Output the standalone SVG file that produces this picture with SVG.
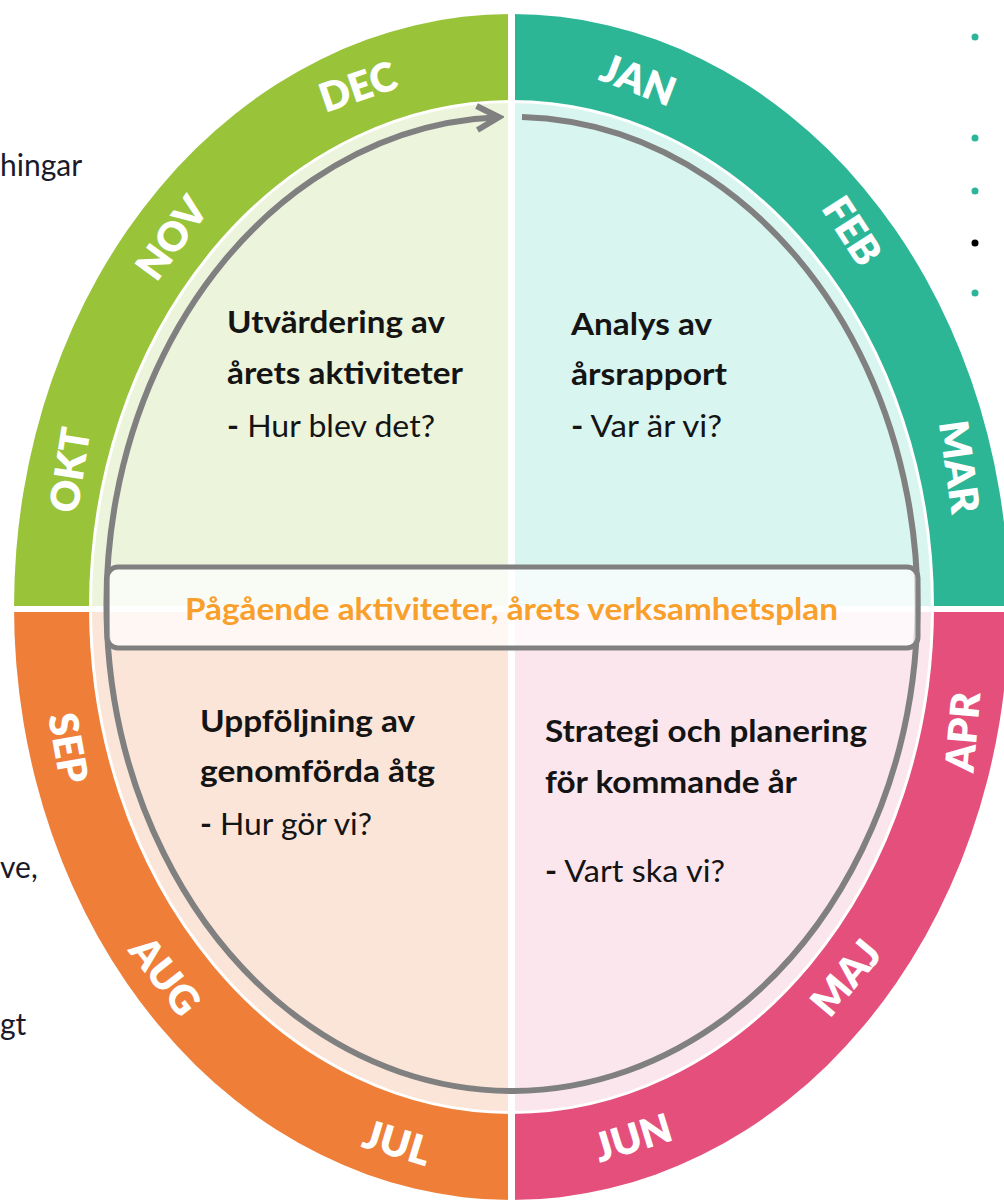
<svg xmlns="http://www.w3.org/2000/svg" width="1004" height="1202" viewBox="0 0 1004 1202">
  <style>
    .title { font-family: Lato, "Liberation Sans", sans-serif; font-weight: 700; font-size: 31px; fill: #141414; }
    .sub { font-family: Lato, "Liberation Sans", sans-serif; font-weight: 400; font-size: 31px; fill: #141414; }
    .month { font-family: Lato, "Liberation Sans", sans-serif; font-weight: 800; font-size: 40px; fill: #ffffff; text-anchor: middle; }
    .side { font-family: Lato, "Liberation Sans", sans-serif; font-weight: 400; font-size: 30px; fill: #1a1a2a; }
    .band { font-family: Lato, "Liberation Sans", sans-serif; font-weight: 700; font-size: 31px; fill: #f8a02b; }
    .sep { stroke: #ffffff; }
  </style>
  <defs>
    <marker id="arrowhead" markerUnits="userSpaceOnUse" markerWidth="30" markerHeight="32" viewBox="0 0 30 32" refX="25" refY="16" orient="auto">
      <path d="M3,4 L25,16 L3,28" fill="none" stroke="#808080" stroke-width="6" stroke-linejoin="miter"/>
    </marker>
  </defs>
  <rect width="1004" height="1202" fill="#ffffff"/>

  <!-- side text fragments -->
  <g id="side-text">
    <text class="side" x="0" y="176">hingar</text>
    <text class="side" x="0" y="878">ve,</text>
    <text class="side" x="0" y="1035">gt</text>
    <circle cx="975" cy="37" r="3.5" fill="#2bb59a"/>
    <circle cx="975" cy="138" r="3.5" fill="#2bb59a"/>
    <circle cx="975" cy="191" r="3.5" fill="#2bb59a"/>
    <circle cx="975" cy="243" r="3.5" fill="#000000"/>
    <circle cx="975" cy="293" r="3.5" fill="#2bb59a"/>
  </g>

  <!-- outer ring quadrants -->
  <g id="q-autumn">
    <path d="M511.5,607 L14,607 A497.5,593 0 0 1 511.5,14 Z" fill="#99c43a"/>
    <path d="M511.5,607 L90.5,607 A421,505.5 0 0 1 511.5,101.5 Z" fill="#ecf4dc"/>
  </g>
  <g id="q-winter">
    <path d="M511.5,607 L511.5,14 A497.5,593 0 0 1 1009,607 Z" fill="#2db696"/>
    <path d="M511.5,607 L511.5,101.5 A421,505.5 0 0 1 932.5,607 Z" fill="#d8f5ef"/>
  </g>
  <g id="q-spring">
    <path d="M511.5,607 L1009,607 A497.5,593 0 0 1 511.5,1200 Z" fill="#e44f7c"/>
    <path d="M511.5,607 L932.5,607 A421,505.5 0 0 1 511.5,1112.5 Z" fill="#fce6ed"/>
  </g>
  <g id="q-summer">
    <path d="M511.5,607 L511.5,1200 A497.5,593 0 0 1 14,607 Z" fill="#ee7e38"/>
    <path d="M511.5,607 L90.5,607 A421,505.5 0 0 0 511.5,1112.5 Z" fill="#fbe5d8"/>
  </g>
  <g id="separators">
    <ellipse cx="511.5" cy="607" rx="421" ry="505.5" fill="none" stroke="#ffffff" stroke-width="3"/>
    <line class="sep" x1="511.5" y1="0" x2="511.5" y2="1202" stroke-width="7"/>
    <line class="sep" x1="0" y1="609" x2="1004" y2="609" stroke-width="6"/>
  </g>

  <!-- month labels -->
  <g id="months">
    <text class="month" transform="translate(358,87) rotate(-19)" y="14">DEC</text>
    <text class="month" transform="translate(172,238) rotate(-54)" y="14">NOV</text>
    <text class="month" transform="translate(70,470) rotate(-81)" y="14">OKT</text>
    <text class="month" transform="translate(638,80) rotate(21)" y="14">JAN</text>
    <text class="month" transform="translate(852,231) rotate(57)" y="14">FEB</text>
    <text class="month" transform="translate(959,467) rotate(82)" y="14">MAR</text>
    <text class="month" transform="translate(963,732) rotate(-85)" y="14">APR</text>
    <text class="month" transform="translate(846,978) rotate(-50)" y="14">MAJ</text>
    <text class="month" transform="translate(633,1138) rotate(-17)" y="14">JUN</text>
    <text class="month" transform="translate(397,1143) rotate(17)" y="14">JUL</text>
    <text class="month" transform="translate(165,976) rotate(52)" y="14">AUG</text>
    <text class="month" transform="translate(68,748) rotate(80)" y="14">SEP</text>
  </g>

  <!-- cycle arrow -->
  <g id="connectors">
    <path d="M522,117.1 A405.5,487 0 1 1 499,117.2" fill="none" stroke="#808080" stroke-width="6" marker-end="url(#arrowhead)"/>
  </g>

  <!-- ongoing activities band -->
  <g id="band">
    <rect x="107" y="567" width="811" height="81" rx="11" fill="#ffffff" fill-opacity="0.7" stroke="#808080" stroke-width="5"/>
    <text class="band" x="185" y="620" textLength="653" lengthAdjust="spacingAndGlyphs">Pågående aktiviteter, årets verksamhetsplan</text>
  </g>

  <g id="node-utvardering">
    <text class="title" x="227" y="333" textLength="218" lengthAdjust="spacingAndGlyphs">Utvärdering av</text>
    <text class="title" x="227" y="384" textLength="236" lengthAdjust="spacingAndGlyphs">årets aktiviteter</text>
    <text class="sub" x="227" y="437" textLength="208" lengthAdjust="spacingAndGlyphs"><tspan font-weight="700">-</tspan> Hur blev det?</text>
  </g>
  <g id="node-analys">
    <text class="title" x="571" y="335" textLength="141" lengthAdjust="spacingAndGlyphs">Analys av</text>
    <text class="title" x="571" y="385" textLength="156" lengthAdjust="spacingAndGlyphs">årsrapport</text>
    <text class="sub" x="571" y="437" textLength="151" lengthAdjust="spacingAndGlyphs"><tspan font-weight="700">-</tspan> Var är vi?</text>
  </g>
  <g id="node-uppfoljning">
    <text class="title" x="200" y="732" textLength="215" lengthAdjust="spacingAndGlyphs">Uppföljning av</text>
    <text class="title" x="200" y="782" textLength="235" lengthAdjust="spacingAndGlyphs">genomförda åtg</text>
    <text class="sub" x="200" y="835" textLength="172" lengthAdjust="spacingAndGlyphs"><tspan font-weight="700">-</tspan> Hur gör vi?</text>
  </g>
  <g id="node-strategi">
    <text class="title" x="545" y="742" textLength="322" lengthAdjust="spacingAndGlyphs">Strategi och planering</text>
    <text class="title" x="545" y="793" textLength="252" lengthAdjust="spacingAndGlyphs">för kommande år</text>
    <text class="sub" x="545" y="882" textLength="180" lengthAdjust="spacingAndGlyphs"><tspan font-weight="700">-</tspan> Vart ska vi?</text>
  </g>
</svg>
